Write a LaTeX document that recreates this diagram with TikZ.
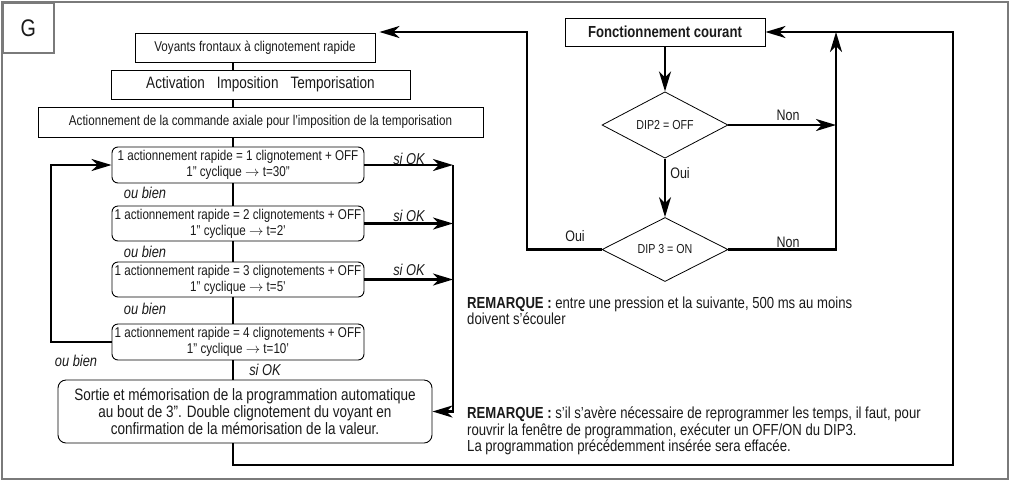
\documentclass[tikz,border=0pt]{standalone}
\usepackage{fontspec}
\setmainfont{Liberation Sans}[FakeStretch=0.82]
\usetikzlibrary{shapes.geometric,arrows.meta}
\definecolor{txt}{HTML}{1A1A1A}
\definecolor{frame}{HTML}{7A7A7A}
\begin{document}
\begin{tikzpicture}[x=1pt,y=-1pt,
  every node/.style={text=txt},
  box/.style={draw=black, line width=0.9pt, minimum height=29pt, inner sep=0pt, font=\fontsize{14.2}{16}\selectfont},
  rbox/.style={box, rounded corners=6pt, align=center},
  dia/.style={draw=black, diamond, line width=0.8pt, inner sep=0pt, minimum width=126pt, minimum height=62pt, font=\fontsize{13}{14}\selectfont},
  conn/.style={line width=2.3pt, draw=black},
  arr/.style={conn, -{Stealth[length=20pt,width=12pt,inset=6pt]}},
  lab/.style={font=\fontsize{15.7}{16}\selectfont\itshape, inner sep=0pt},
  yn/.style={font=\fontsize{15.2}{16}\selectfont, inner sep=0pt},
  note/.style={font=\fontsize{16}{13.8}\selectfont, inner sep=0pt, align=left, anchor=north west}
]
\useasboundingbox (0,0) rectangle (1011,483);
\draw[frame, line width=1.5pt] (2,2) rectangle (1008,479);
\node[draw=frame, line width=1.5pt, minimum width=51pt, minimum height=50pt, anchor=north west, font=\fontsize{24}{26}\selectfont] (g) at (2,2) {G};

% left column
\node[box, minimum width=240pt] (voy) at (255,47.5) {Voyants frontaux à clignotement rapide};
\node[box, minimum width=299pt, font=\fontsize{16.5}{18}\selectfont] (act) at (260.5,84.5) {Activation\hspace{12pt}Imposition\hspace{12pt}Temporisation};
\node[box, minimum width=445pt, minimum height=30pt] (acm) at (260.5,122) {Actionnement de la commande axiale pour l’imposition de la temporisation};
\node[rbox, minimum width=252pt, minimum height=36pt] (b1) at (238,165) {1 actionnement rapide = 1 clignotement + OFF\\1” cyclique $\rightarrow$ t=30”};
\node[rbox, minimum width=252pt, minimum height=35pt] (b2) at (238,223.5) {1 actionnement rapide = 2 clignotements + OFF\\1” cyclique $\rightarrow$ t=2’};
\node[rbox, minimum width=252pt, minimum height=35pt] (b3) at (238,279.5) {1 actionnement rapide = 3 clignotements + OFF\\1” cyclique $\rightarrow$ t=5’};
\node[rbox, minimum width=252pt, minimum height=36pt] (b4) at (238,342) {1 actionnement rapide = 4 clignotements + OFF\\1” cyclique $\rightarrow$ t=10’};
\node[rbox, rounded corners=8pt, minimum width=374pt, minimum height=63pt, font=\fontsize{16.5}{17}\selectfont] (fin) at (245,411.5) {Sortie et mémorisation de la programmation automatique\\au bout de 3". Double clignotement du voyant en\\confirmation de la mémorisation de la valeur.};

% right part
\node[box, minimum width=200pt, minimum height=28pt, font=\fontsize{16}{17}\selectfont\bfseries] (fc) at (665,32) {Fonctionnement courant};
\node[dia] (d2) at (665,125) {DIP2 = OFF};
\node[dia] (d3) at (665,249.5) {DIP 3 = ON};

% helper coordinates
\coordinate (col) at (233,0);
\coordinate (cR) at (453,0);
\coordinate (cL) at (51,0);
\coordinate (cM) at (836,0);
\coordinate (cLL) at (527,0);
\coordinate (cFR) at (953,0);
\coordinate (yB) at (0,465);

% vertical chain
\draw[conn] (voy.south -| col) -- (act.north -| col);
\draw[conn] (act.south -| col) -- (acm.north -| col);
\draw[conn] (acm.south -| col) -- (b1.north -| col);
\draw[conn] (b1.south -| col) -- (b2.north -| col);
\draw[conn] (b2.south -| col) -- (b3.north -| col);
\draw[conn] (b3.south -| col) -- (b4.north -| col);
\draw[conn] (b4.south -| col) -- (fin.north -| col);

% si OK arrows
\draw[arr] (b1.east) -- (b1.east -| cR);
\draw[arr] (b2.east) -- (b2.east -| cR);
\draw[arr] (b3.east) -- (b3.east -| cR);
\draw[arr] (b1.east -| cR) -- (fin.east -| cR) -- (fin.east);

% loop back
\draw[arr] (b4.west) -- (b4.west -| cL) -- (b1.west -| cL) -- (b1.west);

% bottom return
\draw[arr] (fin.south -| col) -- (col |- yB) -- (cFR |- yB) -- (cFR |- fc.east) -- (fc.east);

% decisions
\draw[arr] (fc.south) -- (d2.north);
\draw[arr] (d2.east) -- (d2.east -| cM);
\draw[arr] (d2.south) -- (d3.north);
\draw[arr] (d3.east) -- (d3.east -| cM) -- (cM |- fc.east);
\draw[arr, shorten >=4pt] (d3.west) -- (d3.west -| cLL) -- (cLL |- fc.east) -- (voy.north east |- fc.east);

% labels
\node[lab] (ok1) at (409,159) {si OK};
\node[lab] (ok2) at (409,216) {si OK};
\node[lab] (ok3) at (409,270) {si OK};
\node[lab] (ok4) at (265,370) {si OK};
\node[lab] (ou1) at (145,193) {ou bien};
\node[lab] (ou2) at (145,252) {ou bien};
\node[lab] (ou3) at (145,309) {ou bien};
\node[lab] (ou4) at (76,361) {ou bien};
\node[yn] (non1) at (788,115) {Non};
\node[yn] (oui1) at (680,173) {Oui};
\node[yn] (non2) at (788,242) {Non};
\node[yn] (oui2) at (575,236) {Oui};

% notes
\node[note] (r1) at (467,297) {\textbf{REMARQUE :} entre une pression et la suivante, 500 ms au moins\\doivent s’écouler};
\node[note] (r2) at (467,407) {\textbf{REMARQUE :} s’il s’avère nécessaire de reprogrammer les temps, il faut, pour\\rouvrir la fenêtre de programmation, exécuter un OFF/ON du DIP3.\\La programmation précédemment insérée sera effacée.};
\end{tikzpicture}
\end{document}
